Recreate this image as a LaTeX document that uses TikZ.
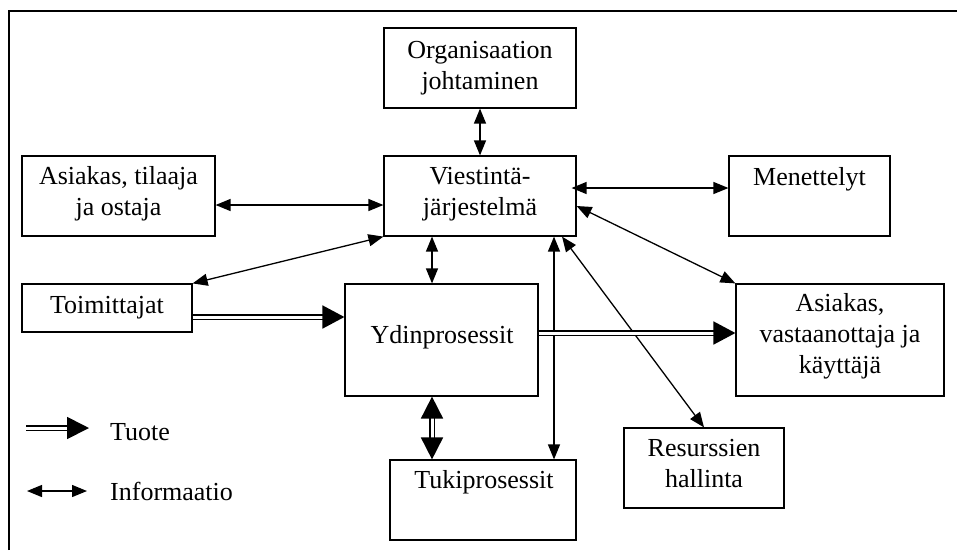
\documentclass[tikz,border=0pt]{standalone}
\usepackage{fontspec}
\setmainfont{Liberation Serif}
\usetikzlibrary{arrows.meta,calc}
\begin{document}
\begin{tikzpicture}[x=1pt,y=-1pt,
  box/.style={draw,line width=1.2pt,rectangle,inner sep=0pt},
  txt/.style={font=\fontsize{26}{31}\selectfont,align=center,inner sep=0pt,anchor=base},
  info/.style={line width=1.3pt,{Triangle[length=15pt,width=12pt]}-{Triangle[length=15pt,width=12pt]}},
  prod/.style={double,line width=1.8pt,double distance=3pt},
  bighead/.style={Triangle[length=22pt,width=23pt]}
]
\useasboundingbox (0,0) rectangle (957,550);
% frame
\draw[line width=1.5pt] (9,550) -- (9,11) -- (957,11);
% boxes
\node[box,minimum width=192pt,minimum height=80pt] (org) at (480,68) {};
\node[box,minimum width=192pt,minimum height=80pt] (vie) at (480,196) {};
\node[box,minimum width=193pt,minimum height=80pt] (ast) at (118.5,196) {};
\node[box,minimum width=161pt,minimum height=80pt] (men) at (809.5,196) {};
\node[box,minimum width=170pt,minimum height=48pt] (toi) at (107,308) {};
\node[box,minimum width=193pt,minimum height=112pt] (ydi) at (441.5,340) {};
\node[box,minimum width=208pt,minimum height=112pt] (asv) at (840,340) {};
\node[box,minimum width=186pt,minimum height=80pt] (tuk) at (483,500) {};
\node[box,minimum width=160pt,minimum height=80pt] (res) at (704,468) {};
% texts (anchor base = last line)
\node[txt] (torg) at (480,89) {Organisaation\\johtaminen};
\node[txt] (tvie) at (480,215) {Viestintä-\\järjestelmä};
\node[txt] (tast) at (118.5,215) {Asiakas, tilaaja\\ja ostaja};
\node[txt] (tmen) at (809.5,185) {Menettelyt};
\node[txt] (ttoi) at (107,313) {Toimittajat};
\node[txt] (tydi) at (442,343) {Ydinprosessit};
\node[txt] (tasv) at (840,373) {Asiakas,\\vastaanottaja ja\\käyttäjä};
\node[txt] (ttuk) at (484,488) {Tukiprosessit};
\node[txt] (tres) at (704,487) {Resurssien\\hallinta};
% information arrows
\draw[info] (org.south) -- (vie.north);
\draw[info] ([yshift=-9pt]ast.east) -- ([yshift=-9pt]vie.west);
\draw[info] ([xshift=-5pt,yshift=8pt]vie.east) -- ([yshift=8pt]vie.east -| men.west);
\draw[info] (vie.south west) -- (toi.north east);
\coordinate (cx) at ([xshift=-48pt]vie.south);
\coordinate (cy) at ([xshift=74pt]vie.south);
\draw[info] (cx) -- (cx |- ydi.north);
\draw[info] (cy) -- (cy |- tuk.north);
\draw[info] ([xshift=82pt]vie.south) -- (res.north);
\draw[info] ([yshift=-10pt]vie.east) -- (asv.north west);
% product arrows
\draw[prod,-{Triangle[length=22pt,width=23pt]}] ([yshift=-9pt]toi.east) -- ([yshift=-9pt]toi.east -| ydi.west);
\draw[prod,-{Triangle[length=22pt,width=23pt]}] ([yshift=7pt]ydi.east) -- ([yshift=7pt]ydi.east -| asv.west);
\draw[prod,{Triangle[length=22pt,width=22pt]}-{Triangle[length=22pt,width=22pt]}] (cx |- ydi.south) -- (cx |- tuk.north);
% legend
\coordinate (l1a) at (26,428);
\coordinate (l1b) at (89,428);
\coordinate (l2a) at (27,491);
\coordinate (l2b) at (87,491);
\draw[prod,-{Triangle[length=22pt,width=22pt]}] (l1a) -- (l1b);
\draw[info] (l2a) -- (l2b);
\node[txt,anchor=base west] (ltuote) at (110,440) {Tuote};
\node[txt,anchor=base west] (linfo) at (110,500) {Informaatio};
\end{tikzpicture}
\end{document}
